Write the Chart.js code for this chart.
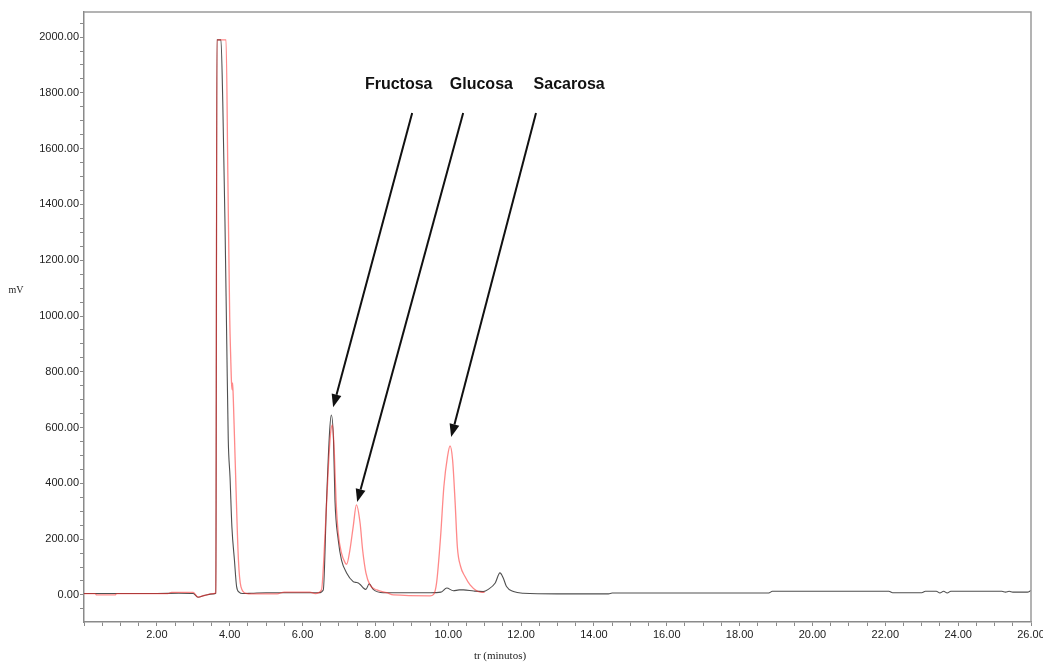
<!DOCTYPE html>
<html>
<head>
<meta charset="utf-8">
<script src="https://cdn.jsdelivr.net/npm/chart.js@4"></script>
<style>
  html, body { margin: 0; padding: 0; background: #fff; overflow: hidden; }
  #wrap { width: 1060px; height: 662px; }
</style>
</head>
<body>
<div id="wrap"><canvas id="cromatograma" width="1060" height="662"></canvas></div>
<script>
// Cromatograma: muestra (negro) y patrón (rojo), tiempo en minutos, señal en mV

// Muestra [tr, mV]
const muestra = [
  [0, 5], [1.0, 5], [2.0, 5], [2.6, 6], [3.0, 5], [3.13, -8], [3.3, -2], [3.55, 4],
  [3.62, 6], [3.65, 1990], [3.76, 1990], [3.81, 1767], [3.87, 1340], [3.92, 900],
  [3.96, 560], [4.01, 420], [4.06, 245], [4.13, 125], [4.19, 30], [4.26, 10], [4.35, 5],
  [4.6, 6], [5.0, 8], [6.3, 8], [6.45, 8], [6.57, 18], [6.66, 340], [6.74, 580],
  [6.79, 645], [6.85, 556], [6.89, 340], [6.98, 197], [7.07, 125], [7.21, 79],
  [7.39, 48], [7.46, 45], [7.53, 43], [7.60, 35], [7.67, 25], [7.74, 20], [7.83, 40],
  [7.94, 20], [8.22, 8], [8.6, 8], [9.5, 8], [9.8, 10], [9.96, 25], [10.14, 15],
  [10.30, 18], [10.42, 18], [10.7, 14], [10.96, 12], [11.1, 20], [11.29, 43],
  [11.42, 79], [11.51, 61], [11.60, 30], [11.79, 12], [12.06, 6], [13.0, 4],
  [14.4, 4], [14.5, 7], [18.8, 7], [18.9, 13], [22.1, 13], [22.2, 8], [23.0, 8],
  [23.1, 13], [23.4, 13], [23.5, 7], [23.6, 13], [23.7, 7], [23.8, 13], [25.2, 13],
  [25.3, 10], [25.4, 13], [25.5, 10], [25.9, 10], [26, 16]
];

// Patrón de azúcares [tr, mV]
const patron = [
  [0, 5], [0.3, 5], [0.35, 0], [0.85, 0], [0.9, 5], [2.3, 5], [2.4, 9], [3.0, 9],
  [3.13, -8], [3.3, -2], [3.55, 5], [3.62, 8], [3.65, 1990], [3.90, 1990],
  [3.95, 1500], [4.00, 1000], [4.03, 842], [4.05, 760], [4.07, 735], [4.08, 760],
  [4.10, 700], [4.15, 484], [4.24, 125], [4.31, 29], [4.45, 6], [4.6, 4], [5.3, 4],
  [5.5, 10], [6.2, 10], [6.35, 5], [6.52, 18], [6.62, 222], [6.71, 460], [6.77, 580],
  [6.82, 610], [6.87, 520], [6.92, 340], [6.98, 222], [7.07, 150], [7.17, 115],
  [7.21, 110], [7.30, 161], [7.39, 244], [7.48, 323], [7.58, 258], [7.65, 161],
  [7.74, 79], [7.85, 36], [8.04, 18], [8.31, 8], [8.5, 0], [9.5, -3], [9.6, 2],
  [9.68, 43], [9.79, 209], [9.88, 388], [9.98, 496], [10.05, 534], [10.12, 484],
  [10.19, 330], [10.25, 173], [10.34, 102], [10.46, 66], [10.60, 36], [10.78, 15],
  [10.92, 9], [11.0, 9]
];

// Flechas de identificación: [texto, x texto, y texto, x inicio, y inicio, x punta, y punta]
const picos = [
  ['Fructosa', 8.64, 1828, 9.01, 1728, 6.84, 673],
  ['Glucosa', 10.91, 1828, 10.41, 1728, 7.50, 333],
  ['Sacarosa', 13.32, 1828, 12.41, 1728, 10.08, 566]
];

const X_MIN = 0, X_MAX = 26;
const Y_MIN = -97, Y_MAX = 2090;

const COLOR_EJE = '#8a8a8a';

function aPuntos(arr) {
  return arr.map(p => ({ x: p[0], y: p[1] }));
}

// Marco superior/derecho, flechas y rótulos
const decoraciones = {
  id: 'decoraciones',
  afterDatasetsDraw(chart) {
    const { ctx, chartArea, scales } = chart;
    const sx = scales.x, sy = scales.y;

    ctx.save();
    // marco
    ctx.strokeStyle = '#9a9a9a';
    ctx.lineWidth = 1.5;
    ctx.beginPath();
    ctx.moveTo(chartArea.left, chartArea.top);
    ctx.lineTo(chartArea.right, chartArea.top);
    ctx.lineTo(chartArea.right, chartArea.bottom);
    ctx.stroke();

    // flechas
    picos.forEach(p => {
      const x0 = sx.getPixelForValue(p[3]), y0 = sy.getPixelForValue(p[4]);
      const x1 = sx.getPixelForValue(p[5]), y1 = sy.getPixelForValue(p[6]);
      const ang = Math.atan2(y1 - y0, x1 - x0);
      const largo = 13, ancho = 5;
      const bx = x1 - largo * Math.cos(ang), by = y1 - largo * Math.sin(ang);

      ctx.strokeStyle = '#111';
      ctx.lineWidth = 2;
      ctx.beginPath();
      ctx.moveTo(x0, y0);
      ctx.lineTo(bx, by);
      ctx.stroke();

      ctx.fillStyle = '#111';
      ctx.beginPath();
      ctx.moveTo(x1, y1);
      ctx.lineTo(bx + ancho * Math.sin(ang), by - ancho * Math.cos(ang));
      ctx.lineTo(bx - ancho * Math.sin(ang), by + ancho * Math.cos(ang));
      ctx.closePath();
      ctx.fill();

      ctx.font = 'bold 16px "Liberation Sans", Arial, sans-serif';
      ctx.textAlign = 'center';
      ctx.textBaseline = 'middle';
      ctx.fillText(p[0], sx.getPixelForValue(p[1]), sy.getPixelForValue(p[2]));
    });

    // títulos de ejes
    ctx.fillStyle = '#222';
    ctx.font = '10px "Liberation Serif", "Times New Roman", serif';
    ctx.textAlign = 'center';
    ctx.textBaseline = 'middle';
    ctx.fillText('mV', 16, 290);
    ctx.font = '11px "Liberation Serif", "Times New Roman", serif';
    ctx.fillText('tr (minutos)', 500, 656);
    ctx.restore();
  }
};

const ctx = document.getElementById('cromatograma').getContext('2d');

new Chart(ctx, {
  type: 'line',
  data: {
    datasets: [
      {
        label: 'Patrón',
        data: aPuntos(patron),
        borderColor: 'rgba(255, 40, 40, 0.55)',
        borderWidth: 1.3,
        pointRadius: 0,
        cubicInterpolationMode: 'monotone',
        fill: false
      },
      {
        label: 'Muestra',
        data: aPuntos(muestra),
        borderColor: 'rgba(60, 60, 60, 0.9)',
        borderWidth: 1.1,
        pointRadius: 0,
        cubicInterpolationMode: 'monotone',
        fill: false
      }
    ]
  },
  options: {
    responsive: false,
    animation: false,
    devicePixelRatio: 1,
    layout: { padding: { top: 12, right: 29, left: 0, bottom: 0 } },
    scales: {
      x: {
        type: 'linear',
        min: X_MIN,
        max: X_MAX,
        afterBuildTicks: axis => {
          const t = [];
          for (let v = X_MIN; v <= X_MAX + 1e-9; v += 0.5) t.push({ value: v });
          axis.ticks = t;
        },
        afterFit: scale => { scale.height = 40; },
        border: { color: COLOR_EJE, width: 1.5 },
        grid: { drawOnChartArea: false, drawTicks: true, tickLength: 4, color: COLOR_EJE },
        ticks: {
          autoSkip: false,
          maxRotation: 0,
          padding: 2,
          color: '#222',
          font: { family: '"Liberation Sans", Arial, sans-serif', size: 11 },
          callback: v => (v > 0 && Math.abs(v % 2) < 1e-9) ? v.toFixed(2) : ''
        }
      },
      y: {
        type: 'linear',
        min: Y_MIN,
        max: Y_MAX,
        afterBuildTicks: axis => {
          const t = [];
          for (let v = -50; v <= 2050; v += 50) t.push({ value: v });
          axis.ticks = t;
        },
        afterFit: scale => { scale.width = 84; },
        border: { color: COLOR_EJE, width: 1.5 },
        grid: { drawOnChartArea: false, drawTicks: true, tickLength: 4, color: COLOR_EJE },
        ticks: {
          autoSkip: false,
          padding: 1,
          color: '#222',
          font: { family: '"Liberation Sans", Arial, sans-serif', size: 11 },
          callback: v => (v >= 0 && v % 200 === 0) ? v.toFixed(2) : ''
        }
      }
    },
    plugins: {
      legend: { display: false },
      tooltip: { enabled: false }
    }
  },
  plugins: [decoraciones]
});
</script>
</body>
</html>
